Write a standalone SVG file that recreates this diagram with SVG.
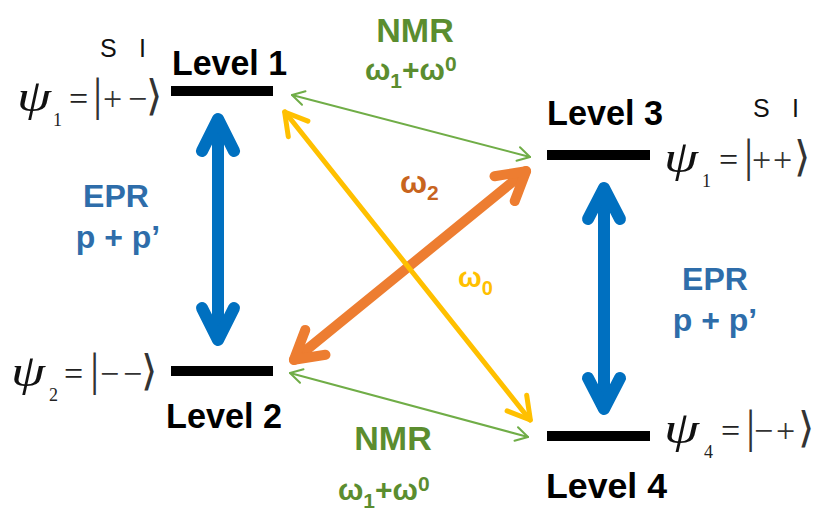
<svg xmlns="http://www.w3.org/2000/svg" width="815" height="512" viewBox="0 0 815 512">
<style>
.bar{fill:#000}
.lvl{font-family:"Liberation Sans",Arial,sans-serif;font-weight:bold;font-size:35px;fill:#000}
.si{font-family:"Liberation Sans",Arial,sans-serif;font-size:25px;fill:#111}
.psi{font-family:"Liberation Serif","Times New Roman",serif;font-style:italic;font-size:44px;fill:#111}
.sub{font-family:"Liberation Serif","Times New Roman",serif;font-size:18px;fill:#222}
.eq{font-family:"Liberation Serif","Times New Roman",serif;font-size:34px;fill:#222}
.pm{font-family:"Liberation Serif","Times New Roman",serif;font-size:34px;fill:#333}
.bk{font-family:"Liberation Serif","DejaVu Serif",serif;font-size:46px;fill:#333}
.ang{font-family:"DejaVu Sans",sans-serif;font-size:42px;fill:#333}
.lab{font-family:"Liberation Sans",Arial,sans-serif;font-weight:bold}
.nmr{fill:#5B8D2F}
.epr{fill:#2E6DAA}
.w2{fill:#C8641E}
.w0{fill:#FFC000}
.ln{fill:none;stroke-linecap:round;stroke-linejoin:round}
.blue{stroke:#0070C0;stroke-width:12}
.orange{stroke:#ED7D31;stroke-width:10}
.yellow{stroke:#FFC000;stroke-width:5}
.green{stroke:#70AD47;stroke-width:2}
</style>
<rect width="815" height="512" fill="#fff"/>

<g id="connectors">
  <g id="epr-left" class="ln blue">
    <line x1="218" y1="120" x2="218" y2="339"/>
    <polyline points="202,151 218,119 234,151"/>
    <polyline points="202,308 218,340 234,308"/>
  </g>
  <g id="epr-right" class="ln blue">
    <line x1="604" y1="189" x2="604" y2="408"/>
    <polyline points="588,219 604,188 620,219"/>
    <polyline points="588,378 604,409 620,378"/>
  </g>
  <g id="w2-arrow" class="ln orange">
    <line x1="294" y1="360" x2="526" y2="171"/>
    <polyline points="494.5,176.3 526.1,171.2 514.7,201.1"/>
    <polyline points="325.5,354.7 293.9,359.8 305.3,329.9"/>
  </g>
  <g id="w0-arrow" class="ln yellow">
    <line x1="285" y1="112" x2="530" y2="420"/>
    <polyline points="288.3,136.7 284.6,112 307.9,121.1"/>
    <polyline points="526.7,395.3 530.4,420 507.1,410.9"/>
  </g>
  <g id="nmr-top" class="ln green">
    <line x1="292" y1="95" x2="530" y2="157"/>
    <polyline points="302,104.8 292,95 305.5,91.3"/>
    <polyline points="520,147.2 530,157 516.5,160.7"/>
  </g>
  <g id="nmr-bottom" class="ln green">
    <line x1="290" y1="373" x2="528" y2="437"/>
    <polyline points="300,382.8 290,373 303.5,369.3"/>
    <polyline points="518,427.2 528,437 514.5,440.7"/>
  </g>
</g>

<g id="level1">
  <rect class="bar" x="171" y="86" width="102" height="10"/>
  <text class="lvl" x="172" y="75" textLength="115" lengthAdjust="spacingAndGlyphs">Level 1</text>
  <text class="si" x="100" y="57">S</text>
  <text class="si" x="139" y="57">I</text>
  <text class="psi" x="17" y="111" textLength="34" lengthAdjust="spacingAndGlyphs">ψ</text>
  <text class="sub" x="53" y="126">1</text>
  <text class="eq" x="69" y="110">=</text>
  <text class="bk" x="93" y="110">|</text>
  <text class="pm" x="103" y="110">+</text>
  <text class="pm" x="128" y="110">−</text>
  <text class="ang" x="146" y="110">⟩</text>
</g>

<g id="level2">
  <rect class="bar" x="171" y="366" width="102" height="10"/>
  <text class="lvl" x="166" y="428" textLength="116" lengthAdjust="spacingAndGlyphs">Level 2</text>
  <text class="psi" x="11" y="386" textLength="34" lengthAdjust="spacingAndGlyphs">ψ</text>
  <text class="sub" x="49" y="401">2</text>
  <text class="eq" x="64" y="385">=</text>
  <text class="bk" x="90" y="385">|</text>
  <text class="pm" x="100" y="385">−</text>
  <text class="pm" x="123" y="385">−</text>
  <text class="ang" x="141" y="385">⟩</text>
</g>

<g id="level3">
  <rect class="bar" x="547" y="150" width="103" height="10"/>
  <text class="lvl" x="547" y="125" textLength="116" lengthAdjust="spacingAndGlyphs">Level 3</text>
  <text class="si" x="753" y="117">S</text>
  <text class="si" x="792" y="117">I</text>
  <text class="psi" x="664" y="172" textLength="34" lengthAdjust="spacingAndGlyphs">ψ</text>
  <text class="sub" x="702" y="187">1</text>
  <text class="eq" x="719" y="171">=</text>
  <text class="bk" x="744" y="171">|</text>
  <text class="pm" x="752" y="171">+</text>
  <text class="pm" x="773" y="171">+</text>
  <text class="ang" x="794" y="171">⟩</text>
</g>

<g id="level4">
  <rect class="bar" x="547" y="431" width="103" height="10"/>
  <text class="lvl" x="546" y="498" textLength="121" lengthAdjust="spacingAndGlyphs">Level 4</text>
  <text class="psi" x="664" y="443" textLength="35" lengthAdjust="spacingAndGlyphs">ψ</text>
  <text class="sub" x="704" y="458">4</text>
  <text class="eq" x="721" y="442">=</text>
  <text class="bk" x="746" y="442">|</text>
  <text class="pm" x="754" y="442">−</text>
  <text class="pm" x="776" y="442">+</text>
  <text class="ang" x="798" y="442">⟩</text>
</g>

<g id="labels">
  <text class="lab nmr" x="415" y="42" font-size="34" text-anchor="middle">NMR</text>
  <text class="lab nmr" x="365" y="80" font-size="30">ω<tspan font-size="21" dy="8">1</tspan><tspan dy="-8">+ω</tspan><tspan font-size="21" dy="-9">0</tspan></text>
  <text class="lab nmr" x="393" y="450" font-size="34" text-anchor="middle">NMR</text>
  <text class="lab nmr" x="338" y="500" font-size="30">ω<tspan font-size="21" dy="8">1</tspan><tspan dy="-8">+ω</tspan><tspan font-size="21" dy="-9">0</tspan></text>
  <text class="lab epr" x="116" y="207" font-size="32" text-anchor="middle">EPR</text>
  <text class="lab epr" x="118" y="248" font-size="32" text-anchor="middle">p + p’</text>
  <text class="lab epr" x="715" y="290" font-size="32" text-anchor="middle">EPR</text>
  <text class="lab epr" x="715" y="331" font-size="32" text-anchor="middle">p + p’</text>
  <text class="lab w2" x="400" y="193" font-size="32">ω<tspan font-size="21" dy="7">2</tspan></text>
  <text class="lab w0" x="458" y="287" font-size="28">ω<tspan font-size="20" dy="8">0</tspan></text>
</g>
</svg>
